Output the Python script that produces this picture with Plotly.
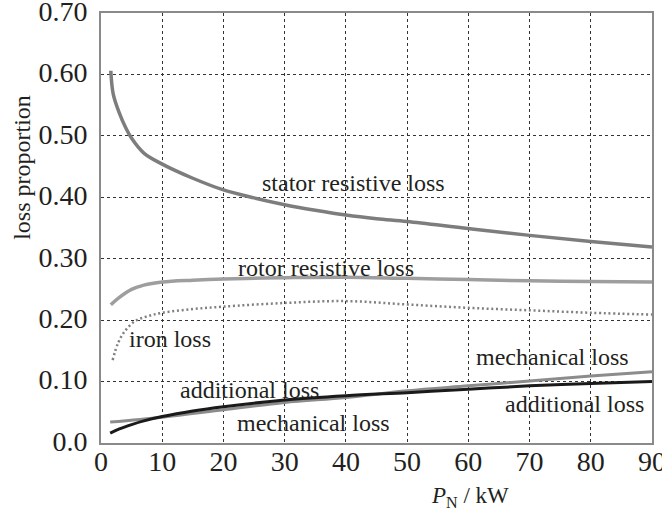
import plotly.graph_objects as go

# ---- data ----
x_stator = [1.6, 2, 3, 4, 5, 7, 10, 15, 20, 25, 30, 35, 40, 45, 50, 60, 70, 80, 90]
stator = [0.606, 0.568, 0.537, 0.514, 0.496, 0.472, 0.454, 0.431, 0.412, 0.399,
          0.388, 0.379, 0.371, 0.365, 0.3605, 0.349, 0.338, 0.328, 0.319]

x_rotor = [1.6, 3, 5, 7, 10, 15, 20, 30, 40, 50, 60, 70, 80, 90]
rotor = [0.225, 0.237, 0.250, 0.257, 0.262, 0.265, 0.267, 0.269, 0.270, 0.268,
         0.266, 0.264, 0.263, 0.262]

x_iron = [1.9, 2.8, 3.9, 5.5, 7.5, 10, 15, 20, 30, 40, 50, 60, 70, 80, 90]
iron = [0.135, 0.163, 0.182, 0.198, 0.206, 0.212, 0.218, 0.222, 0.228, 0.231,
        0.2255, 0.220, 0.216, 0.212, 0.209]

x_additional = [1.5, 3, 5, 7, 10, 15, 20, 30, 40, 50, 60, 70, 80, 90]
additional = [0.016, 0.023, 0.030, 0.036, 0.043, 0.052, 0.059, 0.070, 0.077,
              0.082, 0.0875, 0.093, 0.097, 0.100]

x_mechanical = [1.5, 10, 20, 30, 40, 50, 60, 70, 80, 90]
mechanical = [0.034, 0.042, 0.054, 0.066, 0.074, 0.085, 0.093, 0.101, 0.109, 0.116]

x_ticks = [0, 10, 20, 30, 40, 50, 60, 70, 80, 90]
y_ticks = [0.0, 0.1, 0.2, 0.3, 0.4, 0.5, 0.6, 0.7]
y_ticktext = ["0.0", "0.10", "0.20", "0.30", "0.40", "0.50", "0.60", "0.70"]

# curve labels: (text, x, y)
labels = [
    ("stator resistive loss", 41.2, 0.423),
    ("rotor resistive loss", 36.8, 0.285),
    ("iron loss", 11.2, 0.170),
    ("additional loss", 24.2, 0.086),
    ("mechanical loss", 34.7, 0.033),
    ("mechanical loss", 73.8, 0.1395),
    ("additional loss", 77.3, 0.0634),
]

FONT = "Liberation Serif, Times New Roman, serif"
TXT = "#231f20"

fig = go.Figure()
fig.add_trace(go.Scatter(x=x_stator, y=stator, mode="lines", line_shape="spline",
                         line=dict(color="#7d7d7d", width=3.5), name="stator"))
fig.add_trace(go.Scatter(x=x_rotor, y=rotor, mode="lines", line_shape="spline",
                         line=dict(color="#9e9e9e", width=3.5), name="rotor"))
fig.add_trace(go.Scatter(x=x_iron, y=iron, mode="lines", line_shape="spline",
                         line=dict(color="#808080", width=2.5, dash="2px,2.7px"), name="iron"))
fig.add_trace(go.Scatter(x=x_mechanical, y=mechanical, mode="lines", line_shape="spline",
                         line=dict(color="#8c8c8c", width=3), name="mechanical"))
fig.add_trace(go.Scatter(x=x_additional, y=additional, mode="lines", line_shape="spline",
                         line=dict(color="#1a1a1a", width=3), name="additional"))

annotations = [dict(x=x, y=y, xref="x", yref="y", text=t, showarrow=False,
                    xanchor="center", yanchor="middle",
                    font=dict(family=FONT, size=24, color=TXT))
               for t, x, y in labels]
annotations.append(dict(x=0, y=0.64, xref="paper", yref="paper", xshift=-79,
                        text="loss proportion", textangle=-90, showarrow=False,
                        xanchor="center", yanchor="middle",
                        font=dict(family=FONT, size=24, color=TXT)))
annotations.append(dict(x=60.3, y=0, xref="x", yref="paper", yshift=-54,
                        text="<i>P</i><sub>N</sub> / kW", showarrow=False,
                        xanchor="center", yanchor="middle",
                        font=dict(family=FONT, size=23, color=TXT)))

fig.update_layout(
    width=662, height=509,
    margin=dict(l=101, r=10, t=13, b=66),
    paper_bgcolor="white", plot_bgcolor="white",
    showlegend=False,
    annotations=annotations,
    font=dict(family=FONT, color=TXT),
)
fig.update_xaxes(range=[0, 90], tickvals=x_ticks, showgrid=True, automargin=False,
                 gridcolor="#333333", gridwidth=1, griddash="dot",
                 showline=True, linecolor="#8a8a8a", linewidth=2, mirror=True,
                 ticks="", zeroline=False, ticklabeloverflow="allow",
                 ticklabelstandoff=-8,
                 tickfont=dict(family=FONT, size=28, color=TXT))
fig.update_yaxes(range=[0, 0.7], tickvals=y_ticks, ticktext=y_ticktext, showgrid=True,
                 automargin=False,
                 gridcolor="#333333", gridwidth=1, griddash="dot",
                 showline=True, linecolor="#8a8a8a", linewidth=2, mirror=True,
                 ticks="", zeroline=False, ticklabeloverflow="allow",
                 ticklabelstandoff=6, ticklabelshift=-2,
                 tickfont=dict(family=FONT, size=28, color=TXT))

# remove the browser's default page margin so the 662x509 figure fills the window
fig.write_html("out.html", config={"displayModeBar": False},
               post_script="document.body.style.margin='0';")
